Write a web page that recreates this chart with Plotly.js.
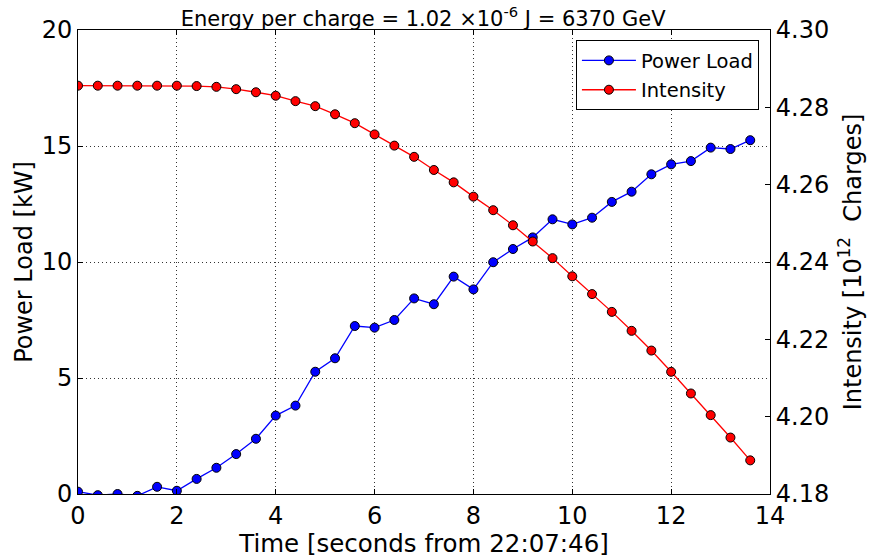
<!DOCTYPE html>
<html>
<head>
<meta charset="utf-8">
<script src="https://cdn.plot.ly/plotly-3.0.1.min.js"></script>
<style>html,body{margin:0;padding:0;background:#fff;}#chart{width:869px;height:558px;}</style>
</head>
<body>
<div id="chart"></div>
<script>
var timeSec = [0.0, 0.4, 0.8, 1.2, 1.6, 2.0, 2.4, 2.8, 3.2, 3.6, 4.0, 4.4, 4.8, 5.2, 5.6, 6.0, 6.4, 6.8, 7.2, 7.6, 8.0, 8.4, 8.8, 9.2, 9.6, 10.0, 10.4, 10.8, 11.2, 11.6, 12.0, 12.4, 12.8, 13.2, 13.6];
var powerLoad = [0.1, -0.05, 0.0, -0.08, 0.31, 0.14, 0.65, 1.13, 1.72, 2.38, 3.38, 3.81, 5.27, 5.85, 7.24, 7.17, 7.5, 8.43, 8.18, 9.37, 8.82, 9.99, 10.56, 11.06, 11.84, 11.62, 11.91, 12.59, 13.03, 13.78, 14.21, 14.35, 14.93, 14.87, 15.25];
var intensity = [4.2856, 4.2856, 4.2856, 4.2856, 4.2856, 4.2856, 4.2855, 4.2853, 4.2847, 4.2839, 4.2830, 4.2816, 4.2803, 4.2782, 4.2759, 4.2730, 4.2701, 4.2672, 4.2638, 4.2606, 4.2569, 4.2534, 4.2495, 4.2453, 4.2410, 4.2363, 4.2317, 4.2271, 4.2222, 4.2171, 4.2116, 4.2060, 4.2004, 4.1946, 4.1887];
var xTicks = [0, 2, 4, 6, 8, 10, 12, 14];
var yTicks = [0, 5, 10, 15, 20];
var y2Ticks = [4.18, 4.20, 4.22, 4.24, 4.26, 4.28, 4.30];

var font = 'DejaVu Sans, sans-serif';
var traces = [
  {x: timeSec, y: powerLoad, name: 'Power Load', type: 'scatter', mode: 'lines+markers', legendgroup: 'a',
   line: {color: '#0000ff', width: 1.3},
   marker: {color: '#0000ff', size: 9, line: {color: '#000', width: 1}}},
  {x: timeSec, y: intensity, name: 'Intensity', type: 'scatter', mode: 'lines+markers', yaxis: 'y2', legendgroup: 'b',
   line: {color: '#ff0000', width: 1.3},
   marker: {color: '#ff0000', size: 9, line: {color: '#000', width: 1}}}
];
var grid = {showgrid: true, gridcolor: '#333', griddash: '1px,3px', gridwidth: 1};
var layout = {
  width: 869, height: 558,
  margin: {l: 78, r: 99, t: 30, b: 64},
  paper_bgcolor: '#fff', plot_bgcolor: '#fff',
  font: {family: font, color: '#000', size: 24},
  title: {text: 'Energy per charge = 1.02 ×10<sup>-6</sup> J = 6370 GeV', font: {size: 21, family: font},
          x: 0.487, xanchor: 'center', y: 0.967, yanchor: 'middle'},
  showlegend: true,
  legend: {x: 0.984, y: 0.978, xanchor: 'right', yanchor: 'top', bgcolor: '#fff',
           bordercolor: '#000', borderwidth: 1, font: {size: 19.5, family: font},
           traceorder: 'grouped', tracegroupgap: 1, itemwidth: 54},
  xaxis: Object.assign({range: [0, 14], tickvals: xTicks, ticks: 'inside', ticklen: 5, tickcolor: '#000',
          showline: true, linecolor: '#000', linewidth: 1, mirror: 'ticks', zeroline: false,
          title: {text: 'Time [seconds from 22:07:46]', font: {size: 24.5}, standoff: 3},
          tickfont: {size: 24}}, grid),
  yaxis: Object.assign({range: [0, 20], tickvals: yTicks, ticks: 'inside', ticklen: 5, tickcolor: '#000',
          showline: true, linecolor: '#000', linewidth: 1, zeroline: false,
          title: {text: 'Power Load [kW]', font: {size: 24}, standoff: 2},
          tickfont: {size: 24}}, grid),
  yaxis2: {range: [4.18, 4.30], tickvals: y2Ticks, tickformat: '.2f', overlaying: 'y', side: 'right',
           ticks: 'inside', ticklen: 5, tickcolor: '#000',
           showline: true, linecolor: '#000', linewidth: 1, showgrid: false, zeroline: false,
           title: {text: 'Intensity [10<sup>12</sup>  Charges]', font: {size: 24}, standoff: 15},
           tickfont: {size: 24}}
};
Plotly.newPlot('chart', traces, layout, {displayModeBar: false, staticPlot: true});
</script>
</body>
</html>
